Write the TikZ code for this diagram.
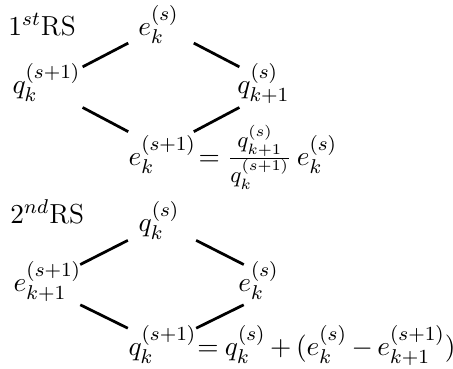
\documentclass[tikz,border=0pt]{standalone}
\usetikzlibrary{calc}
\newcommand{\fracpart}[1]{\mbox{\fontsize{9}{10}\selectfont$#1$}}
\begin{document}
\begin{tikzpicture}[x=0.4pt,y=-0.4pt,
  every node/.style={inner sep=0pt, font=\fontsize{11}{13}\selectfont},
  edge/.style={line width=1.1pt}]
\useasboundingbox (0,0) rectangle (453,368);
% ---------- first rhombus ----------
\coordinate (t1) at (161,26);
\coordinate (l1) at (44,87);
\coordinate (r1) at (278,87);
\coordinate (b1) at (161,149);
\node[anchor=base west] (rs1) at (8,35) {$1^{st}$RS};
\node[anchor=base] (eT) at (158.5,35) {$e_k^{(s)}$};
\node[anchor=base] (qL) at (46.5,93) {$q_k^{(s+1)}$};
\node[anchor=base] (qR) at (263.5,93) {$q_{k+1}^{(s)}$};
\node[anchor=base west] (eB) at (128,165) {$e_k^{(s+1)}$};
\node[anchor=base west] (eq1) at ([xshift=0.6pt]eB.base east)
  {$=\frac{\fracpart{q_{k+1}^{(s)}}}{\fracpart{q_k^{(s+1)}}}\,e_k^{(s)}$};
\draw[edge] ($(t1)!0.28!(l1)$) -- ($(t1)!0.67!(l1)$);
\draw[edge] ($(t1)!0.28!(r1)$) -- ($(t1)!0.67!(r1)$);
\draw[edge] ($(l1)!0.33!(b1)$) -- ($(l1)!0.72!(b1)$);
\draw[edge] ($(r1)!0.33!(b1)$) -- ($(r1)!0.72!(b1)$);
% ---------- second rhombus ----------
\coordinate (t2) at (162,223);
\coordinate (l2) at (40,285);
\coordinate (r2) at (284,285);
\coordinate (b2) at (162,345);
\node[anchor=base west] (rs2) at (10,223) {$2^{nd}$RS};
\node[anchor=base] (qT) at (159,231) {$q_k^{(s)}$};
\node[anchor=base] (eL) at (47.5,291) {$e_{k+1}^{(s+1)}$};
\node[anchor=base] (eR) at (258.5,291) {$e_k^{(s)}$};
\node[anchor=base west] (qB) at (128,355) {$q_k^{(s+1)}$};
\node[anchor=base west] (eq2) at ([xshift=0pt]qB.base east)
  {$\thickmuskip=4mu\medmuskip=3mu = q_k^{(s)} + (e_k^{(s)} - e_{k+1}^{(s+1)})$};
\draw[edge] ($(t2)!0.28!(l2)$) -- ($(t2)!0.67!(l2)$);
\draw[edge] ($(t2)!0.28!(r2)$) -- ($(t2)!0.67!(r2)$);
\draw[edge] ($(l2)!0.33!(b2)$) -- ($(l2)!0.72!(b2)$);
\draw[edge] ($(r2)!0.33!(b2)$) -- ($(r2)!0.72!(b2)$);
\end{tikzpicture}
\end{document}
